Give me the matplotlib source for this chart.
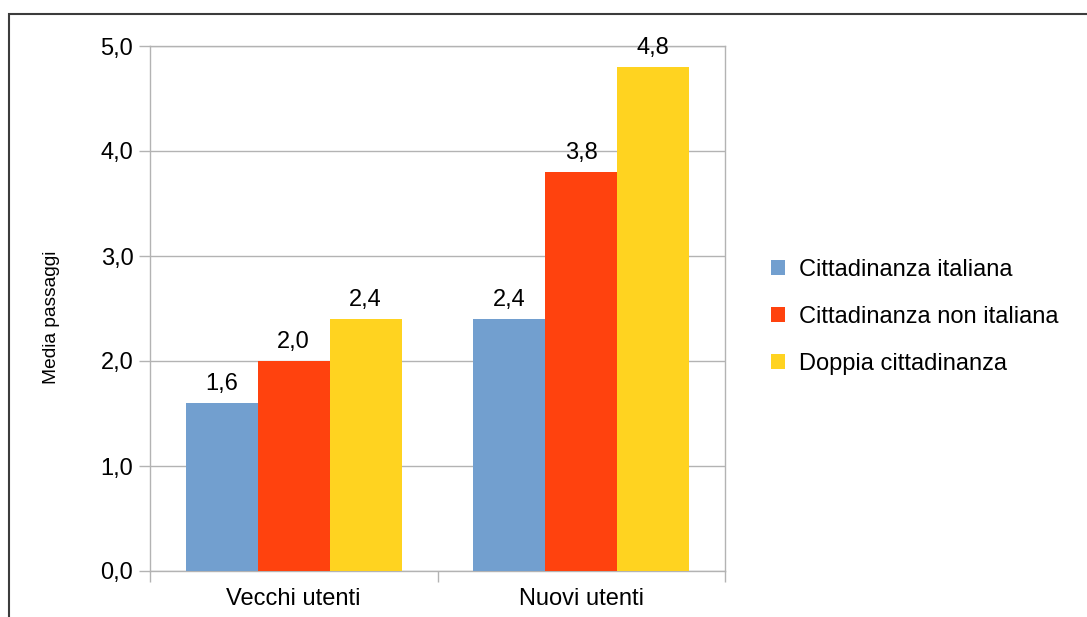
import matplotlib
matplotlib.use("Agg")
import matplotlib.pyplot as plt
from matplotlib.patches import Patch, Rectangle

categories = ["Vecchi utenti", "Nuovi utenti"]
series = ["Cittadinanza italiana", "Cittadinanza non italiana", "Doppia cittadinanza"]
italiana = [1.6, 2.4]
non_italiana = [2.0, 3.8]
doppia = [2.4, 4.8]
colors = ["#729fcf", "#ff420e", "#ffd320"]

plt.rcParams["font.family"] = ["Liberation Sans", "DejaVu Sans"]

W, H = 1087, 617
fig = plt.figure(figsize=(W / 100, H / 100), dpi=100)
ax = fig.add_axes([150 / W, 46 / H, 575 / W, 525 / H])

# outer frame of the chart area
fig.patches.append(Rectangle((9 / W, -0.1), 1.2, 1 - 14 / H + 0.1, transform=fig.transFigure,
                             fill=False, edgecolor="#3c3c3c", linewidth=1.5))

width = 0.25
for j, (name, values) in enumerate(zip(series, [italiana, non_italiana, doppia])):
    xs = [i + (j - 1) * width for i in range(len(categories))]
    bars = ax.bar(xs, values, width=width, color=colors[j], zorder=3, label=name)
    for b, v in zip(bars, values):
        ax.annotate(f"{v:.1f}".replace(".", ","), (b.get_x() + b.get_width() / 2, v),
                    xytext=(0, 6), textcoords="offset points", ha="center", va="bottom",
                    fontsize=17)

ax.set_xlim(-0.5, 1.5)
ax.set_ylim(0, 5)
ax.set_yticks([0, 1, 2, 3, 4, 5])
ax.set_yticklabels([f"{t:.1f}".replace(".", ",") for t in range(6)])
ax.yaxis.grid(True, color="#b3b3b3", linewidth=1, zorder=1)

ax.set_xticks([-0.5, 0.5, 1.5])
ax.set_xticklabels([])
ax.set_xticks([0, 1], minor=True)
ax.set_xticklabels(categories, minor=True)
ax.tick_params(axis="x", which="major", length=8, color="#b3b3b3", width=1)
ax.tick_params(axis="x", which="minor", length=0, pad=12, labelsize=17)
ax.tick_params(axis="y", length=8, color="#b3b3b3", width=1, labelsize=17, pad=4)

for s in ax.spines.values():
    s.set_color("#b3b3b3")
    s.set_linewidth(1)

fig.text(52 / W, 1 - 317 / H, "Media passaggi", rotation=90, ha="center", va="center", fontsize=13.8)

handles = [Patch(facecolor=c) for c in colors]
fig.legend(handles, series, loc="center left", bbox_to_anchor=(771 / W, 1 - 317 / H),
           frameon=False, fontsize=17, handlelength=0.6, handleheight=0.6,
           handletextpad=0.6, labelspacing=1.05, borderpad=0, borderaxespad=0)

fig.savefig("out.png", dpi=100)
